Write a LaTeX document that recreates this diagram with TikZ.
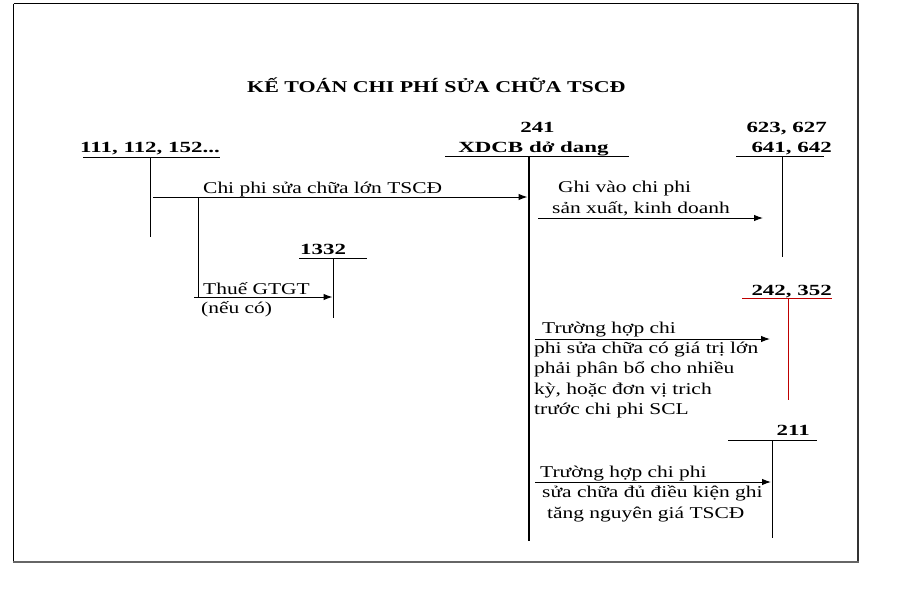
\documentclass[tikz,border=0pt]{standalone}
\usepackage{fontspec}
\setmainfont{Liberation Serif}
\newfontfamily\txtfont[FakeStretch=1.3]{Liberation Serif}
\newfontfamily\accfont[FakeStretch=1.48]{Liberation Serif}
\newfontfamily\ttlfont[FakeStretch=1.33]{Liberation Serif}
\usetikzlibrary{arrows.meta}
\begin{document}
\begin{tikzpicture}[x=1pt,y=-1pt,
  txt/.style={font=\txtfont\fontsize{16.5}{20}\selectfont, inner sep=0pt, anchor=base west},
  acc/.style={font=\accfont\bfseries\fontsize{15.5}{20}\selectfont, inner sep=0pt, anchor=base west},
  ttl/.style={font=\ttlfont\bfseries\fontsize{16.5}{20}\selectfont, inner sep=0pt, anchor=base west},
  tline/.style={line width=1pt},
  thick241/.style={line width=2.6pt},
  arr/.style={line width=1pt,-{Latex[length=9pt,width=6.5pt]}},
]
\useasboundingbox (0,0) rectangle (900,603);
% frame
\draw[line width=1pt,black] (13.5,3.5) -- (858,3.5);
\draw[line width=1.5pt,black] (13.5,3.5) -- (13.5,562);
\draw[line width=2pt,black!80] (858,3) -- (858,562);
\draw[line width=2pt,black!60] (13,562) -- (859,562);

% title
\node[ttl] (title) at (247,92) {KẾ TOÁN CHI PHÍ SỬA CHỮA TSCĐ};

% account 111
\node[acc] (a111) at (80,152) {111, 112, 152...};
\coordinate (a111L) at (83,157);
\coordinate (a111R) at (220,157);
\coordinate (a111T) at (150,157);
\coordinate (a111B) at (150,237);
\draw[tline] (a111L) -- (a111R);
\draw[tline] (a111T) -- (a111B);

% account 1332
\node[acc] (a1332) at (300,254) {1332};
\coordinate (a1332L) at (299,258);
\coordinate (a1332R) at (367,258);
\coordinate (a1332T) at (333,258);
\coordinate (a1332B) at (333,318);
\draw[tline] (a1332L) -- (a1332R);
\draw[tline] (a1332T) -- (a1332B);

% account 241
\node[acc,anchor=base] (a241) at (537.5,132) {241};
\node[acc,anchor=base] (a241n) at (533.5,152) {XDCB dở dang};
\coordinate (a241L) at (445,156);
\coordinate (a241R) at (629,156);
\coordinate (a241T) at (529,156);
\coordinate (a241B) at (529,541);
\draw[tline] (a241L) -- (a241R);
\draw[thick241] (a241T) -- (a241B);

% account 623...
\node[acc,anchor=base east] (a623) at (827,132) {623, 627};
\node[acc,anchor=base east] (a641) at (832,152) {641, 642};
\coordinate (a623L) at (736,156);
\coordinate (a623R) at (824,156);
\coordinate (a623T) at (782,156);
\coordinate (a623B) at (782,257);
\draw[tline] (a623L) -- (a623R);
\draw[tline] (a623T) -- (a623B);

% account 242, 352 (red)
\node[acc,anchor=base east] (a242) at (832,295) {242, 352};
\coordinate (a242L) at (742,298);
\coordinate (a242R) at (832,298);
\coordinate (a242T) at (788,298);
\coordinate (a242B) at (788,400);
\draw[tline,red!75!black] (a242L) -- (a242R);
\draw[tline,red!75!black] (a242T) -- (a242B);

% account 211
\node[acc,anchor=base east] (a211) at (810,435) {211};
\coordinate (a211L) at (728,440);
\coordinate (a211R) at (817,440);
\coordinate (a211T) at (772,440);
\coordinate (a211B) at (772,538);
\draw[tline] (a211L) -- (a211R);
\draw[tline] (a211T) -- (a211B);

% arrow 111 -> 241
\coordinate (s1) at (153,197);
\coordinate (e1) at (527.5,197);
\draw[arr] (s1) -- (e1);
\node[txt] (l1) at (203,193) {Chi phi sửa chữa lớn TSCĐ};

% branch to 1332
\coordinate (b1) at (198,197);
\coordinate (b2) at (198,297);
\coordinate (s2) at (194,297);
\coordinate (e2) at (332.5,297);
\draw[tline] (b1) -- (b2);
\draw[arr] (s2) -- (e2);
\node[txt] (l2) at (203,294) {Thuế GTGT};
\node[txt] (l2b) at (201,313) {(nếu có)};

% 241 -> 623
\coordinate (s3) at (538,218);
\coordinate (e3) at (763,218);
\draw[arr] (s3) -- (e3);
\node[txt] (l3) at (558,192) {Ghi vào chi phi};
\node[txt] (l3b) at (552,213) {sản xuất, kinh doanh};

% 241 -> 242
\coordinate (s4) at (535,339);
\coordinate (e4) at (770,339);
\draw[arr] (s4) -- (e4);
\node[txt] (l4) at (542,333) {Trường hợp chi};
\node[txt] (l4b) at (534,353) {phi sửa chữa có giá trị lớn};
\node[txt] (l4c) at (534,373) {phải phân bổ cho nhiều};
\node[txt] (l4d) at (534,394) {kỳ, hoặc đơn vị trich};
\node[txt] (l4e) at (534,414) {trước chi phi SCL};

% 241 -> 211
\coordinate (s5) at (535,482);
\coordinate (e5) at (771,482);
\draw[arr] (s5) -- (e5);
\node[txt] (l5) at (540,477) {Trường hợp chi phi};
\node[txt] (l5b) at (542,497) {sửa chữa đủ điều kiện ghi};
\node[txt] (l5c) at (547,518) {tăng nguyên giá TSCĐ};
\end{tikzpicture}
\end{document}
